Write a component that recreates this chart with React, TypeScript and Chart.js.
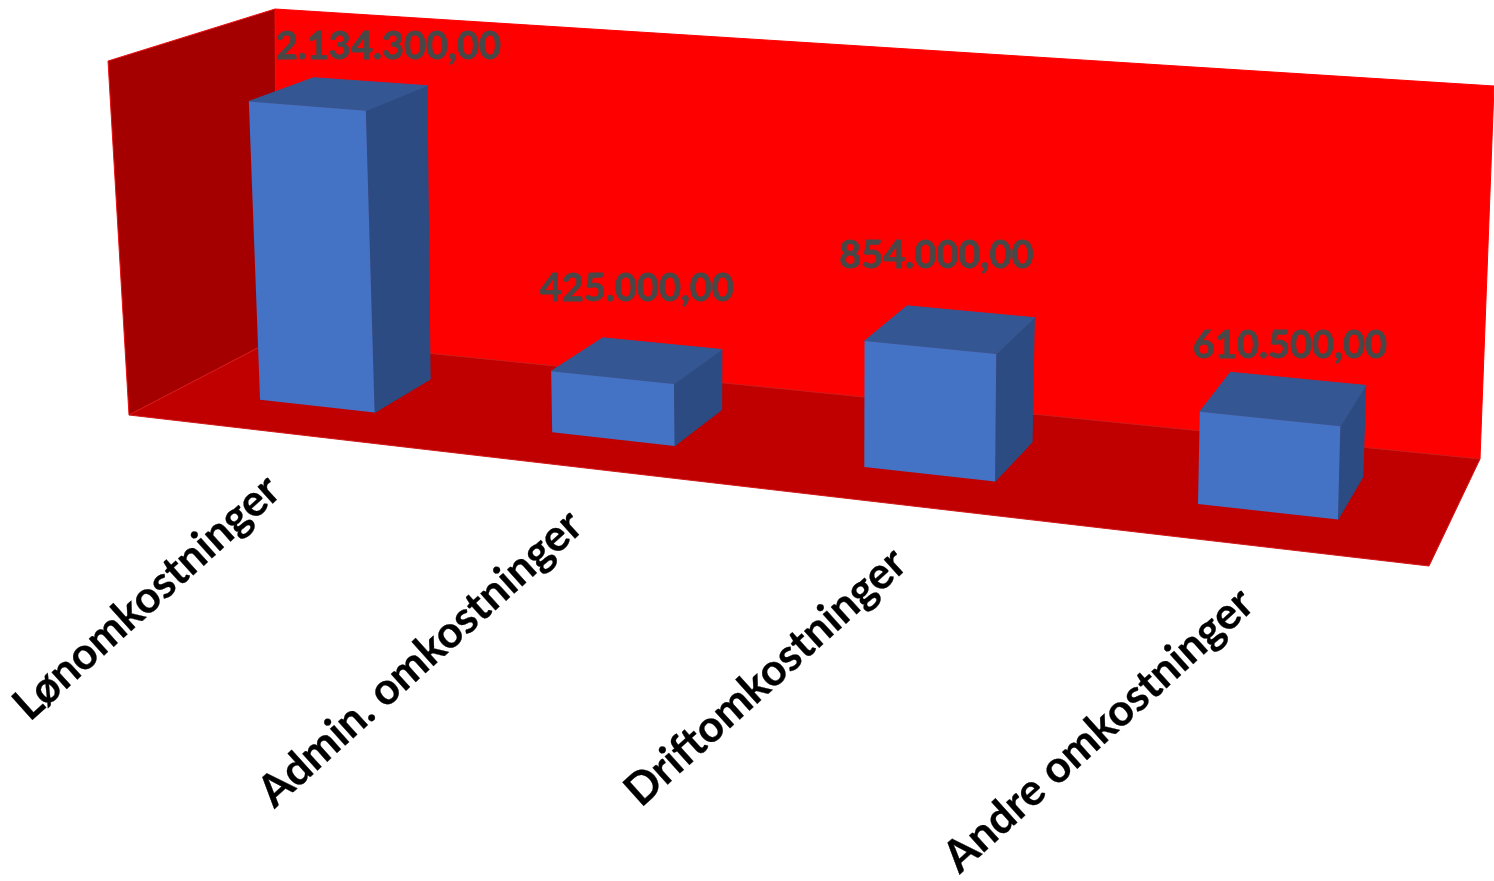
import React, { useEffect, useRef } from "react";
import { Chart, registerables } from "chart.js";

Chart.register(...registerables);

const categories = ["Lønomkostninger", "Admin. omkostninger", "Driftomkostninger", "Andre omkostninger"];
const costs = [2134300, 425000, 854000, 610500];
const axisMax = 2500000;

// Styles
const FONT = "Lato";
const BAR_FRONT = "#4472C4";
const BAR_TOP = "#345793";
const BAR_SIDE = "#2C4B82";
const WALL_BACK = "#FF0000";
const WALL_LEFT = "#A50000";
const FLOOR = "#C00000";
const DEPTH_FRONT = 0.3;
const DEPTH_BACK = 0.71;
const AXIS_WARP = 0.06;

// Camera: the room's corners as seen in the picture, [front-left, front-right, back-right, back-left]
type Pt = [number, number];
const floorQuad: Pt[] = [[129, 415], [1429, 566], [1480, 459], [277, 338]];
const ceilingQuad: Pt[] = [[108, 61], [1440, 176], [1494, 86], [275, 9]];

// Label placement relative to the projected anchor
const valueOffsets: Pt[] = [[20, -35], [-24, -56], [-33, -57], [-7, -34]];
const tickOffset: Pt = [1, 52];
const tickAngle = (-42 * Math.PI) / 180;

function squareToQuad(q: Pt[]) {
  const [[x0, y0], [x1, y1], [x2, y2], [x3, y3]] = q;
  const dx1 = x1 - x2, dx2 = x3 - x2, sx = x0 - x1 + x2 - x3;
  const dy1 = y1 - y2, dy2 = y3 - y2, sy = y0 - y1 + y2 - y3;
  const den = dx1 * dy2 - dx2 * dy1;
  const g = (sx * dy2 - dx2 * sy) / den;
  const h = (dx1 * sy - sx * dy1) / den;
  const a = x1 - x0 + g * x1, b = x3 - x0 + h * x3, c = x0;
  const d = y1 - y0 + g * y1, e = y3 - y0 + h * y3, f = y0;
  return (u: number, v: number): Pt => {
    const z = g * u + h * v + 1;
    return [(a * u + b * v + c) / z, (d * u + e * v + f) / z];
  };
}
const floorMap = squareToQuad(floorQuad);
const risers: Pt[] = floorQuad.map((p, i) => [ceilingQuad[i][0] - p[0], ceilingQuad[i][1] - p[1]]);

// a: along the category axis, t: height as a share of the value axis, w: depth
function project(a: number, t: number, w: number): Pt {
  const u = a + AXIS_WARP * a * (1 - a);
  const f = floorMap(u, w);
  const rise = [0, 1].map(
    (k) =>
      (1 - w) * ((1 - u) * risers[0][k] + u * risers[1][k]) +
      w * ((1 - u) * risers[3][k] + u * risers[2][k])
  );
  return [f[0] + rise[0] * t, f[1] + rise[1] * t];
}

function face(ctx: CanvasRenderingContext2D, pts: Pt[], fill: string, stroke?: string) {
  ctx.beginPath();
  pts.forEach((p, i) => (i ? ctx.lineTo(p[0], p[1]) : ctx.moveTo(p[0], p[1])));
  ctx.closePath();
  ctx.fillStyle = fill;
  ctx.fill();
  if (stroke) {
    ctx.strokeStyle = stroke;
    ctx.lineWidth = 1;
    ctx.stroke();
  }
}

const formatValue = (v: number) =>
  v.toFixed(2).replace(".", ",").replace(/\B(?=(\d{3})+(?!\d))(?=.*,)/g, ".");

const room3d = {
  id: "room3d",
  beforeDatasetsDraw(chart: any) {
    const { ctx } = chart;
    ctx.save();
    face(ctx, [project(0, 0, 1), project(1, 0, 1), project(1, 1, 1), project(0, 1, 1)], WALL_BACK, WALL_BACK);
    face(ctx, [project(0, 0, 0), project(0, 0, 1), project(0, 1, 1), project(0, 1, 0)], WALL_LEFT, "#E81010");
    face(ctx, [project(0, 0, 0), project(1, 0, 0), project(1, 0, 1), project(0, 0, 1)], FLOOR, "#D01818");
    ctx.restore();
  },
  beforeDatasetDraw(chart: any, args: any) {
    const { ctx, chartArea: ca } = chart;
    const meta = chart.getDatasetMeta(args.index);
    const W = ca.right - ca.left;
    const H = ca.bottom - ca.top;
    ctx.save();
    meta.data.forEach((bar: any) => {
      const { x, y, width } = bar.getProps(["x", "y", "width"], true);
      const a0 = (x - width / 2 - ca.left) / W;
      const a1 = (x + width / 2 - ca.left) / W;
      const t = (ca.bottom - y) / H;
      const f = DEPTH_FRONT, b = DEPTH_BACK;
      face(ctx, [project(a1, 0, f), project(a1, 0, b), project(a1, t, b), project(a1, t, f)], BAR_SIDE, BAR_SIDE);
      face(ctx, [project(a0, t, f), project(a1, t, f), project(a1, t, b), project(a0, t, b)], BAR_TOP, BAR_TOP);
      face(ctx, [project(a0, 0, f), project(a1, 0, f), project(a1, t, f), project(a0, t, f)], BAR_FRONT);
    });
    ctx.restore();
    return false;
  },
  afterDatasetsDraw(chart: any) {
    const { ctx, chartArea: ca, scales } = chart;
    const W = ca.right - ca.left;
    const H = ca.bottom - ca.top;
    const meta = chart.getDatasetMeta(0);
    const values = chart.data.datasets[0].data as number[];
    ctx.save();
    ctx.textAlign = "center";
    ctx.textBaseline = "middle";
    ctx.fillStyle = "#484848";
    ctx.strokeStyle = "#484848";
    ctx.lineWidth = 0.8;
    ctx.font = `bold 38px ${FONT}`;
    meta.data.forEach((bar: any, i: number) => {
      const { x, y } = bar.getProps(["x", "y"], true);
      const p = project((x - ca.left) / W, (ca.bottom - y) / H, 0.7);
      const text = formatValue(values[i]);
      const tx = p[0] + valueOffsets[i][0];
      const ty = p[1] + valueOffsets[i][1];
      ctx.fillText(text, tx, ty);
      ctx.strokeText(text, tx, ty);
    });
    ctx.fillStyle = "#000000";
    ctx.strokeStyle = "#000000";
    ctx.lineWidth = 0.3;
    ctx.font = `bold 44px ${FONT}`;
    ctx.textAlign = "right";
    scales.x.getLabels().forEach((label: string, i: number) => {
      const p = project((scales.x.getPixelForTick(i) - ca.left) / W, 0, 0);
      ctx.save();
      ctx.translate(p[0] + tickOffset[0], p[1] + tickOffset[1]);
      ctx.rotate(tickAngle);
      ctx.fillText(label, 0, 0);
      ctx.strokeText(label, 0, 0);
      ctx.restore();
    });
    ctx.restore();
  },
};

export default function App() {
  const ref = useRef<HTMLCanvasElement>(null);
  useEffect(() => {
    const chart = new Chart(ref.current!, {
      type: "bar",
      data: {
        labels: categories,
        datasets: [
          {
            label: "Omkostninger",
            data: costs,
            backgroundColor: BAR_FRONT,
            barPercentage: 0.4,
            categoryPercentage: 1,
          },
        ],
      },
      options: {
        animation: false,
        responsive: false,
        layout: { padding: 0 },
        plugins: { legend: { display: false }, title: { display: false }, tooltip: { enabled: false } },
        scales: {
          x: { display: false },
          y: { display: false, min: 0, max: axisMax },
        },
      },
      plugins: [room3d],
    });
    return () => chart.destroy();
  }, []);
  return (
    <div style={{ position: "absolute", left: 0, top: 0, width: 1494, height: 881, overflow: "hidden", background: "#fff" }}>
      <canvas ref={ref} width={1494} height={881} style={{ display: "block", filter: "blur(0.5px)" }} />
    </div>
  );
}
